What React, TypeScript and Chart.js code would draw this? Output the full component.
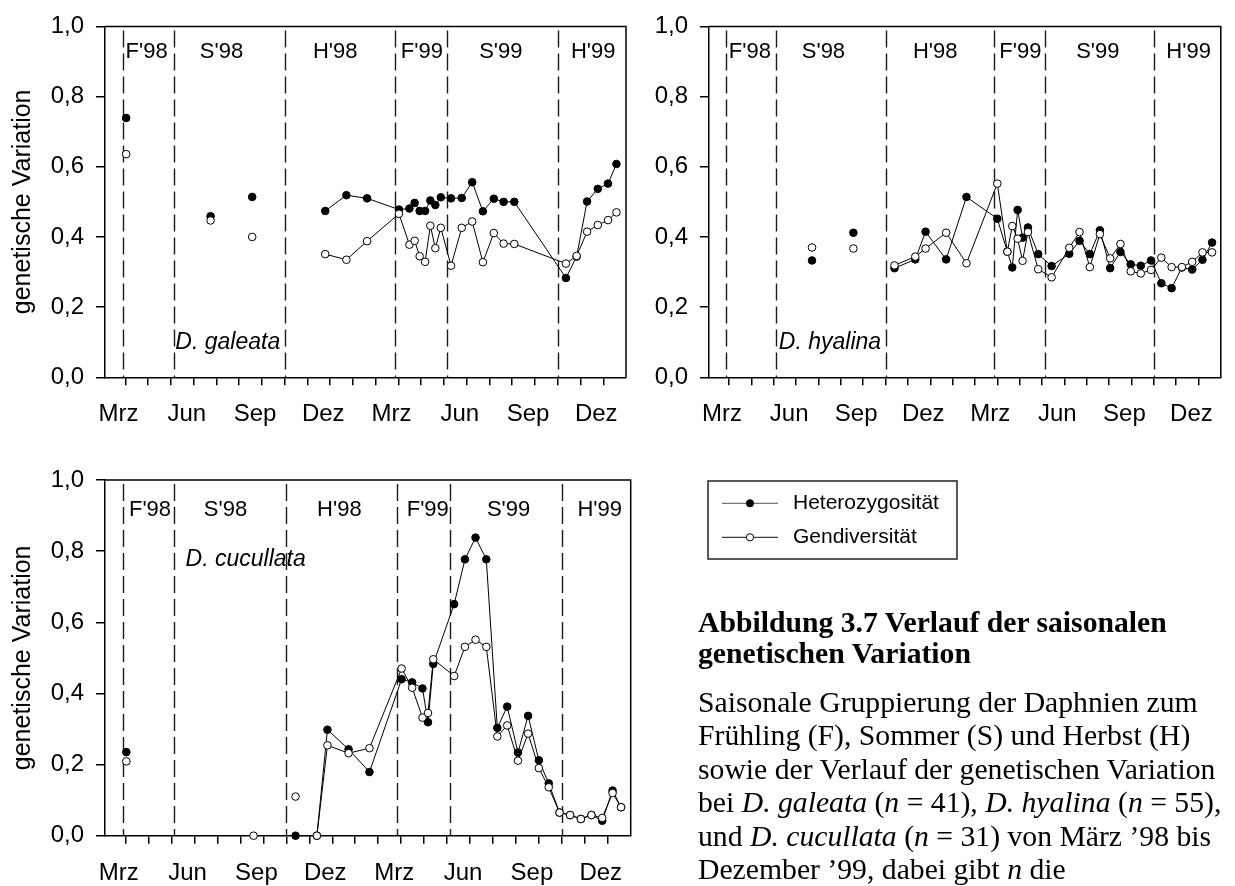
import React, { useEffect, useRef } from 'react';
import { Chart, registerables } from 'chart.js';

Chart.register(...registerables);

const SANS = '"Liberation Sans", Arial, Helvetica, sans-serif';
const SERIF = '"Liberation Serif", "Times New Roman", Times, serif';

// ---- axes (x in months, 0 = März 1998) ----
const monthTickValues = [0, 1, 2, 3, 4, 5, 6, 7, 8, 9, 10, 11, 12, 13, 14, 15, 16, 17, 18, 19, 20, 21];
const monthTickLabels = ['Mrz', 'Jun', 'Sep', 'Dez'];
const yTickValues = [0, 0.2, 0.4, 0.6, 0.8, 1.0];
const xMin = -0.9;
const xMax = 22;

// ---- seasons ----
const seasonNames = ["F'98", "S'98", "H'98", "F'99", "S'99", "H'99"];
const seasonBounds = [-0.12, 2.12, 7.0, 11.84, 14.12, 19.0];
const seasonLabelPosTop = [0.93, 4.22, 9.22, 13.03, 16.5, 20.56];
const seasonLabelPosBottom = [1.06, 4.35, 9.31, 13.16, 16.68, 20.65];

// ---- D. galeata ----
const galeataMonths = [0.03, 3.74, 5.57, 8.78, 9.71, 10.62, 12.02, 12.48, 12.71, 12.93, 13.17, 13.4, 13.62, 13.86, 14.31, 14.78, 15.24, 15.71, 16.19, 16.62, 17.09, 19.36, 19.83, 20.29, 20.76, 21.21, 21.58];
const galeataHetero = [0.739, 0.459, 0.514, 0.474, 0.519, 0.51, 0.478, 0.481, 0.497, 0.474, 0.474, 0.504, 0.491, 0.513, 0.51, 0.511, 0.556, 0.473, 0.509, 0.5, 0.5, 0.283, 0.344, 0.501, 0.537, 0.552, 0.608];
const galeataGendiv = [0.636, 0.447, 0.4, 0.351, 0.335, 0.388, 0.466, 0.378, 0.389, 0.345, 0.329, 0.432, 0.368, 0.426, 0.318, 0.426, 0.444, 0.328, 0.411, 0.381, 0.38, 0.324, 0.346, 0.415, 0.434, 0.448, 0.47];

// ---- D. hyalina ----
const hyalinaMonths = [3.71, 5.56, 7.4, 8.33, 8.79, 9.71, 10.62, 12.0, 12.45, 12.67, 12.91, 13.13, 13.37, 13.83, 14.43, 15.22, 15.68, 16.14, 16.59, 17.05, 17.51, 17.97, 18.42, 18.88, 19.34, 19.8, 20.26, 20.72, 21.18, 21.61];
const hyalinaHetero = [0.333, 0.412, 0.311, 0.336, 0.415, 0.336, 0.514, 0.452, 0.358, 0.313, 0.477, 0.398, 0.427, 0.351, 0.317, 0.352, 0.389, 0.351, 0.419, 0.311, 0.357, 0.322, 0.318, 0.333, 0.268, 0.254, 0.313, 0.307, 0.335, 0.384];
const hyalinaGendiv = [0.37, 0.367, 0.319, 0.344, 0.367, 0.412, 0.325, 0.552, 0.358, 0.431, 0.395, 0.332, 0.414, 0.308, 0.285, 0.369, 0.414, 0.314, 0.408, 0.339, 0.38, 0.302, 0.296, 0.306, 0.341, 0.314, 0.314, 0.329, 0.356, 0.356];

// ---- D. cucullata ----
const cucullataMonths = [0.03, 5.57, 7.4, 8.33, 8.79, 9.71, 10.62, 12.02, 12.48, 12.93, 13.17, 13.4, 14.31, 14.78, 15.24, 15.71, 16.19, 16.62, 17.09, 17.53, 18.0, 18.43, 18.9, 19.36, 19.83, 20.29, 20.76, 21.21, 21.58];
const cucullataHetero = [0.235, null, 0.0, 0.0, 0.298, 0.243, 0.179, 0.44, 0.431, 0.414, 0.319, 0.483, 0.651, 0.777, 0.838, 0.777, 0.303, 0.363, 0.234, 0.337, 0.212, 0.147, 0.065, 0.058, 0.047, 0.058, 0.042, 0.127, 0.08];
const cucullataGendiv = [0.209, 0.0, 0.11, 0.0, 0.254, 0.232, 0.246, 0.47, 0.416, 0.332, 0.345, 0.496, 0.449, 0.531, 0.551, 0.531, 0.279, 0.31, 0.211, 0.287, 0.19, 0.136, 0.065, 0.058, 0.047, 0.058, 0.05, 0.12, 0.08];

const seriesNames = ['Heterozygosität', 'Gendiversität'];

type PanelDef = {
  left: number; top: number; width: number; height: number;
  padTop: number; padRight: number; xAxisHeight: number;
  months: number[]; hetero: (number | null)[]; gendiv: (number | null)[];
  startH: number; startG: number;
  seasonPos: number[]; seasonDy: number;
  species: string; speciesX: number; speciesY: number; speciesAlign: CanvasTextAlign;
  showTitle: boolean;
  legend?: boolean;
};

const decorPlugin = {
  id: 'decor',
  beforeDatasetsDraw(chart: any, _args: any, opts: any) {
    const { ctx, chartArea: ca, scales } = chart;
    const x = scales.x;
    const y = scales.y;
    ctx.save();
    // season boundaries
    ctx.strokeStyle = '#1a1a1a';
    ctx.lineWidth = 1.4;
    ctx.setLineDash([17, 6]);
    for (const b of opts.bounds) {
      const px = Math.round(x.getPixelForValue(b)) + 0.5;
      ctx.beginPath();
      ctx.moveTo(px, ca.top + 4);
      ctx.lineTo(px, ca.bottom);
      ctx.stroke();
    }
    ctx.setLineDash([]);
    // frame (top and right)
    ctx.strokeStyle = '#000';
    ctx.lineWidth = 1.5;
    ctx.beginPath();
    ctx.moveTo(ca.left, ca.top);
    ctx.lineTo(ca.right, ca.top);
    ctx.lineTo(ca.right, ca.bottom);
    ctx.stroke();
    // season labels
    ctx.fillStyle = '#000';
    ctx.font = `22px ${SANS}`;
    ctx.textAlign = 'center';
    ctx.textBaseline = 'middle';
    opts.names.forEach((n: string, i: number) => {
      ctx.fillText(n, x.getPixelForValue(opts.pos[i]), ca.top + opts.dy);
    });
    // species label
    ctx.font = `italic 23px ${SANS}`;
    ctx.textAlign = opts.speciesAlign;
    ctx.fillText(opts.species, x.getPixelForValue(opts.speciesX), y.getPixelForValue(opts.speciesY));
    ctx.restore();
  },
  afterDraw(chart: any, _args: any, opts: any) {
    if (!opts.legend) return;
    const { ctx } = chart;
    ctx.save();
    const bx = 708, by = 51, bw = 249, bh = 78;
    ctx.strokeStyle = '#222';
    ctx.lineWidth = 1.5;
    ctx.strokeRect(bx, by, bw, bh);
    const rows = [73.3, 107.3];
    const lineColors = ['#555', '#111'];
    chart.data.datasets.forEach((ds: any, i: number) => {
      const ry = rows[i];
      ctx.strokeStyle = lineColors[i];
      ctx.lineWidth = 1;
      ctx.beginPath();
      ctx.moveTo(722, ry);
      ctx.lineTo(778, ry);
      ctx.stroke();
      ctx.beginPath();
      ctx.arc(750, ry, 3.6, 0, Math.PI * 2);
      ctx.fillStyle = ds.pointBackgroundColor;
      ctx.fill();
      ctx.strokeStyle = '#000';
      ctx.stroke();
      ctx.fillStyle = '#000';
      ctx.font = `21px ${SANS}`;
      ctx.textAlign = 'left';
      ctx.textBaseline = 'middle';
      ctx.fillText(ds.label, 793, ry);
    });
    ctx.restore();
  },
};

function buildChart(canvas: HTMLCanvasElement, p: PanelDef) {
  const mk = (vals: (number | null)[]) => p.months.map((m, i) => ({ x: m, y: vals[i] }));
  const segColor = (start: number) => (c: any) => (c.p0DataIndex < start ? 'rgba(0,0,0,0)' : '#000');
  return new Chart(canvas, {
    type: 'line',
    data: {
      datasets: [
        {
          label: seriesNames[0],
          data: mk(p.hetero) as any,
          order: 1,
          borderColor: '#000',
          borderWidth: 1,
          pointRadius: 3.8,
          pointBackgroundColor: '#000',
          pointBorderColor: '#000',
          pointBorderWidth: 1,
          tension: 0,
          fill: false,
          clip: false as any,
          segment: { borderColor: segColor(p.startH) },
        },
        {
          label: seriesNames[1],
          data: mk(p.gendiv) as any,
          order: 0,
          borderColor: '#000',
          borderWidth: 1,
          pointRadius: 3.8,
          pointBackgroundColor: '#fff',
          pointBorderColor: '#000',
          pointBorderWidth: 1,
          tension: 0,
          fill: false,
          clip: false as any,
          segment: { borderColor: segColor(p.startG) },
        },
      ],
    },
    options: {
      animation: false,
      responsive: false,
      events: [],
      layout: { padding: { top: p.padTop, right: p.padRight, left: 0, bottom: 0 } },
      plugins: {
        legend: { display: false },
        tooltip: { enabled: false },
        decor: {
          bounds: seasonBounds,
          names: seasonNames,
          pos: p.seasonPos,
          dy: p.seasonDy,
          species: p.species,
          speciesX: p.speciesX,
          speciesY: p.speciesY,
          speciesAlign: p.speciesAlign,
          legend: !!p.legend,
        },
      } as any,
      scales: {
        x: {
          type: 'linear',
          min: xMin,
          max: xMax,
          afterBuildTicks: (s: any) => {
            s.ticks = monthTickValues.map((v) => ({ value: v }));
          },
          afterFit: (s: any) => {
            s.height = p.xAxisHeight;
          },
          ticks: {
            autoSkip: false,
            maxRotation: 0,
            minRotation: 0,
            padding: 15,
            labelOffset: -7,
            color: '#000',
            font: { family: SANS, size: 24 },
            callback: (v: any) => (Number(v) % 3 === 0 ? monthTickLabels[(Number(v) / 3) % 4] : ''),
          },
          grid: { drawOnChartArea: false, drawTicks: true, tickLength: 8, color: '#000', lineWidth: 1.5 },
          border: { display: true, color: '#000', width: 1.5 },
        },
        y: {
          type: 'linear',
          min: 0,
          max: 1,
          afterBuildTicks: (s: any) => {
            s.ticks = yTickValues.map((v) => ({ value: v }));
          },
          afterFit: (s: any) => {
            s.width = 105;
          },
          ticks: {
            padding: 12,
            color: '#000',
            font: { family: SANS, size: 24 },
            callback: (v: any) => Number(v).toFixed(1).replace('.', ','),
          },
          title: {
            display: p.showTitle,
            text: 'genetische Variation',
            color: '#000',
            font: { family: SANS, size: 25 },
            padding: { top: 8, bottom: 0 },
          },
          grid: { drawOnChartArea: false, drawTicks: true, tickLength: 9, color: '#000', lineWidth: 1.5 },
          border: { display: true, color: '#000', width: 1.5 },
        },
      },
    } as any,
    plugins: [decorPlugin as any],
  });
}

function Panel(props: PanelDef) {
  const ref = useRef<HTMLCanvasElement>(null);
  useEffect(() => {
    const chart = buildChart(ref.current as HTMLCanvasElement, props);
    return () => chart.destroy();
  }, []);
  return (
    <canvas
      ref={ref}
      width={props.width}
      height={props.height}
      style={{ position: 'absolute', left: props.left, top: props.top, width: props.width, height: props.height }}
    />
  );
}

const panels: PanelDef[] = [
  {
    left: 0, top: 0, width: 640, height: 430, padTop: 22, padRight: 9.3, xAxisHeight: 52.7,
    months: galeataMonths, hetero: galeataHetero, gendiv: galeataGendiv, startH: 3, startG: 3,
    seasonPos: seasonLabelPosTop, seasonDy: 26,
    species: 'D. galeata', speciesX: 6.8, speciesY: 0.1, speciesAlign: 'right',
    showTitle: true,
  },
  {
    left: 603.7, top: 0, width: 631.3, height: 430, padTop: 22, padRight: 1.3, xAxisHeight: 52.7,
    months: hyalinaMonths, hetero: hyalinaHetero, gendiv: hyalinaGendiv, startH: 2, startG: 2,
    seasonPos: seasonLabelPosTop, seasonDy: 26,
    species: 'D. hyalina', speciesX: 6.8, speciesY: 0.1, speciesAlign: 'right',
    showTitle: false,
  },
  {
    left: 0, top: 430, width: 1235, height: 456, padTop: 50, padRight: 604.3, xAxisHeight: 50.3,
    months: cucullataMonths, hetero: cucullataHetero, gendiv: cucullataGendiv, startH: 2, startG: 3,
    seasonPos: seasonLabelPosBottom, seasonDy: 30,
    species: 'D. cucullata', speciesX: 2.61, speciesY: 0.775, speciesAlign: 'left',
    showTitle: true,
    legend: true,
  },
];

function Caption() {
  const base: React.CSSProperties = {
    position: 'absolute',
    left: 698,
    fontFamily: SERIF,
    fontSize: 29.7,
    color: '#000',
    whiteSpace: 'nowrap',
    margin: 0,
  };
  const paraLines: React.ReactNode[] = [
    <>Saisonale Gruppierung der Daphnien zum</>,
    <>Frühling (F), Sommer (S) und Herbst (H)</>,
    <>sowie der Verlauf der genetischen Variation</>,
    <>bei <i>D. galeata</i> (<i>n</i> = 41), <i>D. hyalina</i> (<i>n</i> = 55),</>,
    <>und <i>D. cucullata</i> (<i>n</i> = 31) von März ’98 bis</>,
    <>Dezember ’99, dabei gibt <i>n</i> die</>,
  ];
  return (
    <>
      <div style={{ ...base, top: 607, fontWeight: 'bold', lineHeight: '31.3px' }}>
        Abbildung 3.7 Verlauf der saisonalen
        <br />
        genetischen Variation
      </div>
      <div style={{ ...base, top: 686, lineHeight: '33.4px' }}>
        {paraLines.map((l, i) => (
          <div key={i}>{l}</div>
        ))}
      </div>
    </>
  );
}

export default function App() {
  return (
    <div style={{ position: 'absolute', left: 0, top: 0, width: 1235, height: 886, overflow: 'hidden', background: '#fff' }}>
      {panels.map((p, i) => (
        <Panel key={i} {...p} />
      ))}
      <Caption />
    </div>
  );
}
